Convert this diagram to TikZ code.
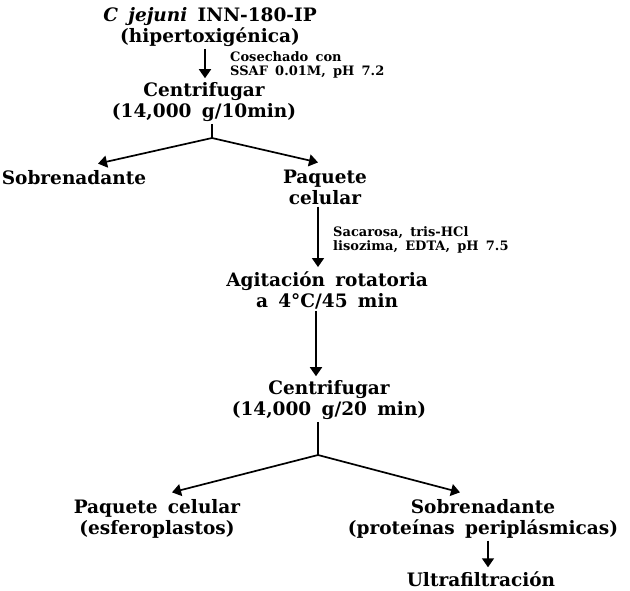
\documentclass[tikz,border=0pt]{standalone}
\usepackage{fontspec}
\setmainfont{DejaVu Serif}[WordSpace=1.6]
\usetikzlibrary{arrows.meta,calc}
\tikzset{
  lbl/.style={font=\bfseries\fontsize{18.5}{21}\selectfont, align=center, inner sep=2pt},
  ann/.style={font=\bfseries\fontsize{13}{14.5}\selectfont, align=left, anchor=west, inner sep=0pt},
  arr/.style={line width=1.7pt, -{Triangle[width=12pt,length=9pt]}},
  ln/.style={line width=1.7pt}
}
\begin{document}
\begin{tikzpicture}[x=1pt,y=-1pt]
\useasboundingbox (0,0) rectangle (630,590);
\node[lbl] (src) at (210,27) {\textit{C jejuni} INN-180-IP\\(hipertoxigénica)};
\node[ann] (a1) at (230,65) {Cosechado con\\SSAF 0.01M, pH 7.2};
\node[lbl] (c1) at (204,102) {Centrifugar\\(14,000 g/10min)};
\node[lbl] (sob1) at (74,178) {Sobrenadante};
\node[lbl] (paq1) at (325,187) {Paquete\\celular};
\node[ann] (a2) at (333,240) {Sacarosa, tris-HCl\\lisozima, EDTA, pH 7.5};
\node[lbl] (ag) at (327,290) {Agitación rotatoria\\a 4°C/45 min};
\node[lbl] (c2) at (329,400) {Centrifugar\\(14,000 g/20 min)};
\node[lbl] (paq2) at (157,519) {Paquete celular\\(esferoplastos)};
\node[lbl] (sob2) at (483,519) {Sobrenadante\\(proteínas periplásmicas)};
\node[lbl] (ultra) at (481,579) {Ultrafiltración};
\coordinate (j1) at (212,138);
\coordinate (j2) at (318,455);
% arrows
\draw[arr] ([xshift=-5pt]src.south) -- ([xshift=1pt,yshift=2pt]c1.north);
\draw[ln] (c1.south -| j1) -- (j1);
\draw[arr] (j1) -- ([xshift=24pt,yshift=5pt]sob1.north);
\draw[arr] (j1) -- ([xshift=-7pt,yshift=5pt]paq1.north);
\draw[arr] ([xshift=-7pt]paq1.south) -- ([xshift=-9pt,yshift=2pt]ag.north);
\draw[arr] ([xshift=-11pt]ag.south) -- ([xshift=-13pt,yshift=2pt]c2.north);
\draw[ln] (c2.south -| j2) -- (j2);
\draw[arr] (j2) -- ([xshift=15pt,yshift=5pt]paq2.north);
\draw[arr] (j2) -- ([xshift=-23pt,yshift=5pt]sob2.north);
\draw[arr] ([xshift=5pt]sob2.south) -- ([xshift=7pt,yshift=2pt]ultra.north);
\end{tikzpicture}
\end{document}
